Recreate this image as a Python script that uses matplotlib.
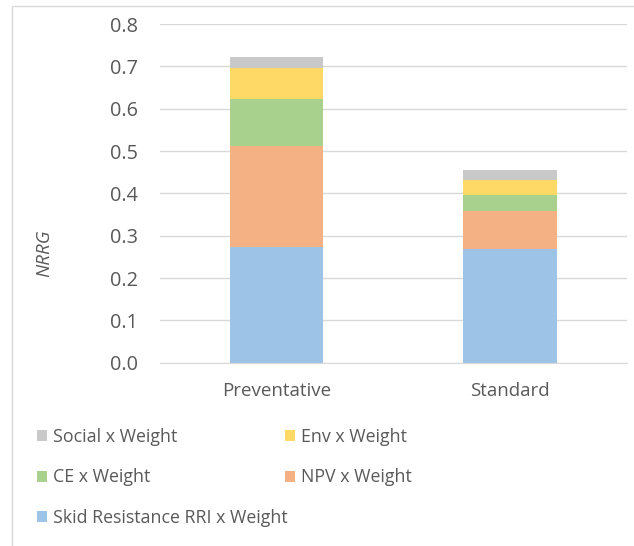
import matplotlib
matplotlib.use("Agg")
import matplotlib.pyplot as plt
from matplotlib.patches import Patch, Rectangle

categories = ["Preventative", "Standard"]
series_names = ["Skid Resistance RRI x Weight", "NPV x Weight", "CE x Weight", "Env x Weight", "Social x Weight"]
skid = [0.273, 0.269]
npv = [0.240, 0.090]
ce = [0.109, 0.036]
env = [0.074, 0.036]
social = [0.026, 0.024]
yticks = [0.0, 0.1, 0.2, 0.3, 0.4, 0.5, 0.6, 0.7, 0.8]

colors = ["#9DC3E6", "#F4B183", "#A9D18E", "#FFD966", "#C9C9C9"]
txt = "#595959"
plt.rcParams['font.family'] = ['Open Sans', 'DejaVu Sans']

fig = plt.figure(figsize=(6.34, 5.46), dpi=100)
renderer = fig.canvas.get_renderer()

def fit_size(s, target_px, **kw):
    t = fig.text(0, 0, s, fontsize=10, **kw)
    w = t.get_window_extent(renderer).width
    t.remove()
    return 10 * target_px / w

FS_TICK = fit_size("0.8", 28)
FS_CAT = fit_size("Preventative", 109)
FS_LEG = 0.5 * (FS_CAT + fit_size("Social x Weight", 117))

fig.patches.append(Rectangle((12/634, -0.1), 1.0, 1 - 6/546 + 0.1, transform=fig.transFigure,
                             fill=False, edgecolor="#D9D9D9", linewidth=1.0))
ax = fig.add_axes([160/634, 1 - 362.7/546, (626.7 - 160)/634, (362.7 - 24)/546])

x = list(range(len(categories)))
bottom = [0.0] * len(categories)
for name, vals, c in zip(series_names, [skid, npv, ce, env, social], colors):
    ax.bar(x, vals, width=0.4, bottom=bottom, color=c, label=name, zorder=3)
    bottom = [bb + v for bb, v in zip(bottom, vals)]

ax.set_xlim(-0.5, 1.5)
ax.set_ylim(0, 0.8)
ax.set_yticks(yticks)
ax.set_yticklabels([f"{t:.1f}" for t in yticks], fontsize=FS_TICK, color=txt)
ax.set_xticks(x)
ax.set_xticklabels(categories, fontsize=FS_CAT, color=txt)
ax.tick_params(axis='both', length=0)
ax.tick_params(axis='y', pad=16)
ax.tick_params(axis='x', pad=14)
ax.grid(axis='y', color="#D9D9D9", linewidth=1.0, zorder=0)
for s in ["top", "right", "left"]:
    ax.spines[s].set_visible(False)
ax.spines["bottom"].set_color("#D9D9D9")
ax.set_ylabel("NRRG", fontsize=FS_CAT, color=txt, style='italic')
ax.yaxis.set_label_coords(-(160 - 53) / (626.7 - 160), (362.7 - 253) / (362.7 - 24))

def handles(idx):
    return [Patch(facecolor=colors[i], edgecolor='none') for i in idx], [series_names[i] for i in idx]

fs_px = FS_LEG * 100 / 72
h1, l1 = handles([4, 2, 0])
h2, l2 = handles([3, 1])
common = dict(frameon=False, fontsize=FS_LEG, labelcolor=txt,
              handlelength=10 / fs_px, handleheight=10 / fs_px,
              handletextpad=6 / fs_px, labelspacing=(40 - 1.0 * fs_px) / fs_px,
              borderpad=0, borderaxespad=0, loc='upper left')
top = 437 - 0.5 * fs_px
fig.legend(h1, l1, bbox_to_anchor=(37/634, 1 - top/546), **common)
fig.legend(h2, l2, bbox_to_anchor=(285/634, 1 - top/546), **common)

fig.savefig("out.png", dpi=100)
